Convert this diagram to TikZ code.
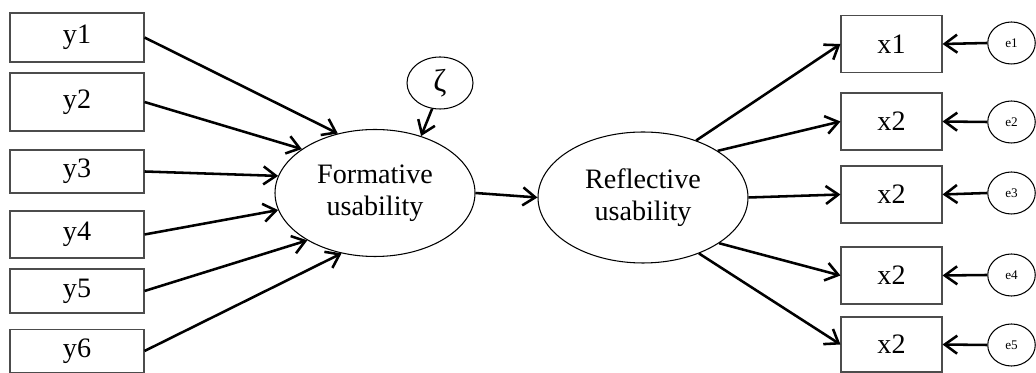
\documentclass[tikz,border=0pt]{standalone}
\usepackage{fontspec}
\setmainfont{Liberation Serif}
\usetikzlibrary{arrows.meta,shapes.geometric}
\begin{document}
\begin{tikzpicture}[>={Straight Barb[length=2.5mm,width=3.6mm]},
  ybox/.style={draw=black!70, line width=.6pt, minimum width=2.68cm, font=\fontsize{16}{18}\selectfont},
  xbox/.style={draw=black!70, line width=.6pt, minimum width=2.02cm, font=\fontsize{16}{18}\selectfont},
  latent/.style={draw, ellipse, line width=.6pt, inner sep=0pt, align=center, font=\fontsize{16}{18.5}\selectfont},
  err/.style={draw, ellipse, line width=.6pt, minimum width=.95cm, minimum height=.84cm, inner sep=0pt, font=\fontsize{7.5}{8}\selectfont},
  arr/.style={->, line width=1.45pt}]
\useasboundingbox (0,0) rectangle (20.72,-7.46);
\foreach \n/\y/\h in {1/-.75/.98, 2/-2.04/1.16, 3/-3.43/.86, 4/-4.69/.94, 5/-5.82/.88, 6/-7.02/.86}
  \node[ybox, minimum height=\h cm] (y\n) at (1.54,\y) {y\n};
\node[latent, minimum width=4cm, minimum height=2.54cm] (F) at (7.5,-3.86) {Formative\\usability};
\node[latent, minimum width=4.2cm, minimum height=2.62cm] (R) at (12.86,-3.95) {Reflective\\usability};
\node[latent, minimum width=1.32cm, minimum height=1.04cm, font=\fontsize{18}{20}\selectfont] (zeta) at (8.8,-1.66) {ζ};
\foreach \n/\a in {1/122, 2/149, 3/170, 4/190, 5/215, 6/241}
  \draw[arr] (y\n.east) -- (F.\a);
\draw[arr] (zeta.253) -- (F.51);
\draw[arr] (F.east) -- (R.west);
\foreach \n/\t/\y/\h/\ey in {1/x1/-.88/1.14/-.86, 2/x2/-2.43/1.14/-2.44, 3/x2/-3.89/1.14/-3.86, 4/x2/-5.51/1.14/-5.5, 5/x2/-6.89/1.1/-6.9}
{
  \node[xbox, minimum height=\h cm] (x\n) at (17.83,\y) {\t};
  \node[err] (e\n) at (20.23,\ey) {e\n};
  \draw[arr] (e\n.west) -- (x\n.east);
}
\foreach \n/\a in {1/47, 2/32, 3/0, 4/-31, 5/-45}
  \draw[arr] (R.\a) -- (x\n.west);
\end{tikzpicture}
\end{document}
